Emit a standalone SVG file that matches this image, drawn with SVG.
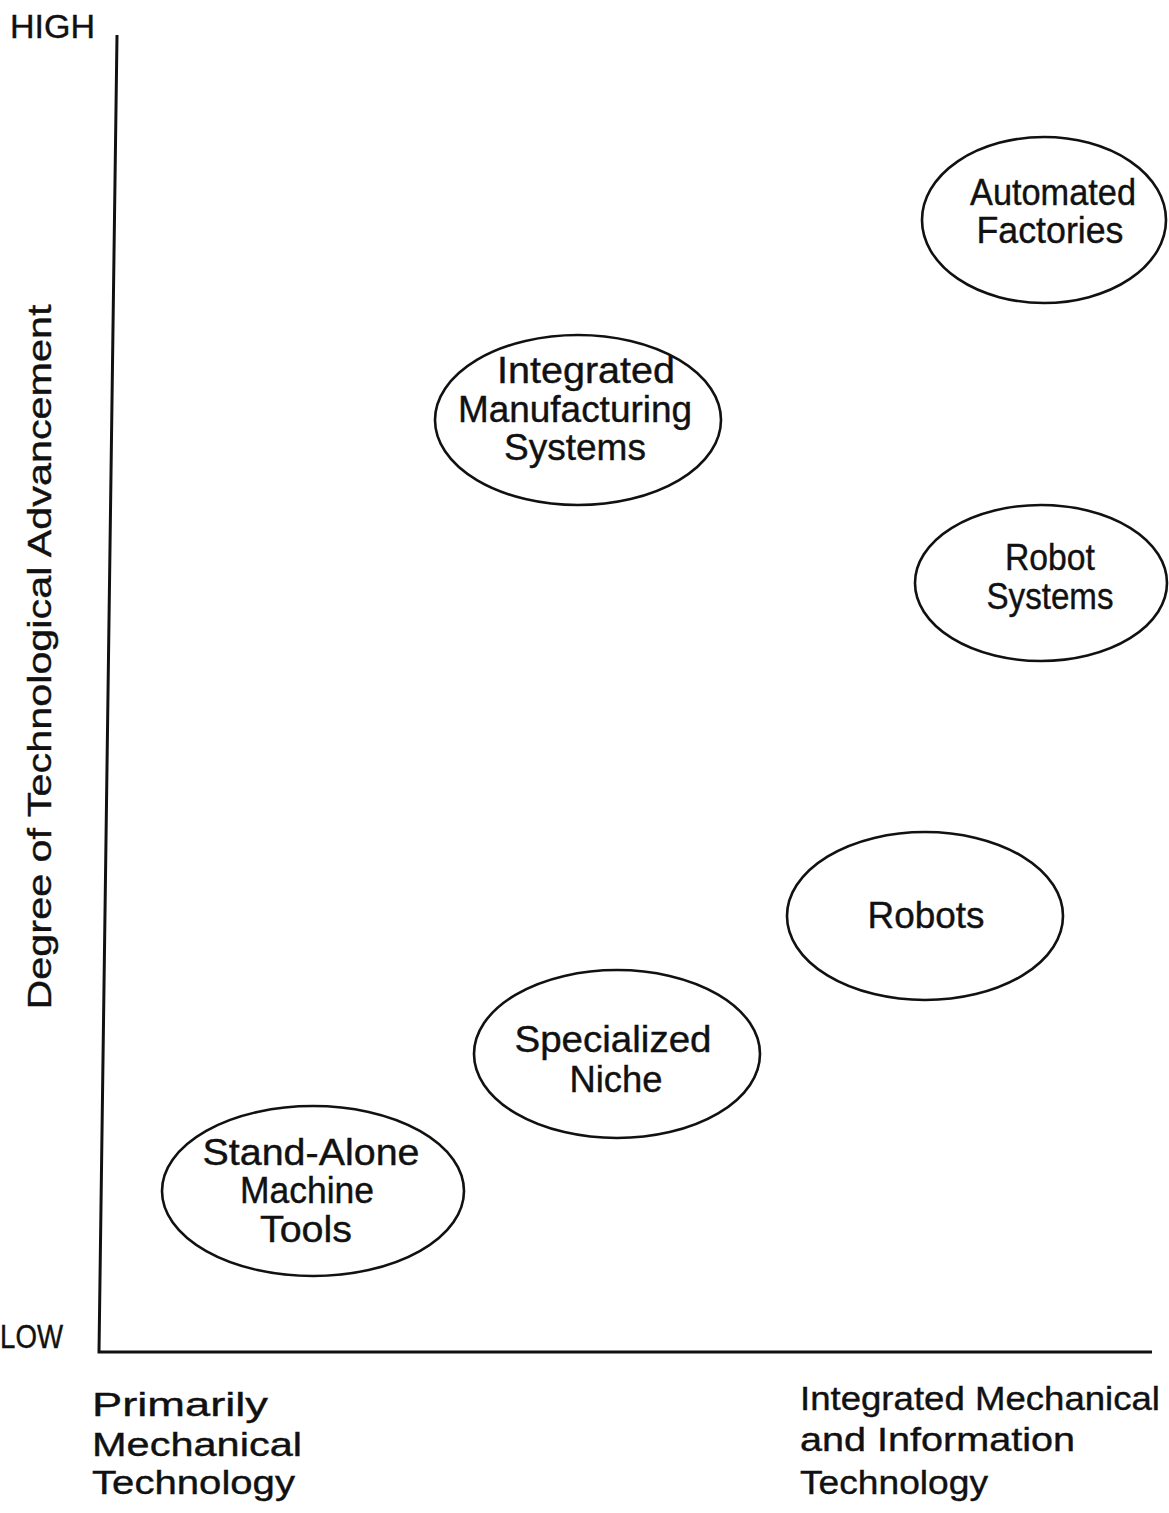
<svg xmlns="http://www.w3.org/2000/svg" width="1169" height="1513" viewBox="0 0 1169 1513">
<style>
text{font-family:"Liberation Sans","DejaVu Sans",sans-serif;fill:#111;stroke:#111;stroke-width:0.4;}
.n{font-size:36px;text-anchor:middle;}
.ax{font-size:34px;}
.lb{font-size:34px;}
.e{fill:none;stroke:#111;stroke-width:2.6;}
.axis{fill:none;stroke:#111;stroke-width:3;}
</style>
<rect width="1169" height="1513" fill="#fff"/>
<g id="axes">
<path class="axis" d="M117 35 L99 1352 L1152 1352"/>
<text class="ax" x="10" y="38" textLength="85" lengthAdjust="spacingAndGlyphs">HIGH</text>
<text class="ax" x="0" y="1348" font-size="37" textLength="63" lengthAdjust="spacingAndGlyphs">LOW</text>
<text class="lb" transform="translate(51,657) rotate(-90)" text-anchor="middle" font-size="31" textLength="705" lengthAdjust="spacingAndGlyphs">Degree of Technological Advancement</text>
<text class="lb" x="92" y="1416" textLength="176" lengthAdjust="spacingAndGlyphs">Primarily</text>
<text class="lb" x="92" y="1456" textLength="210" lengthAdjust="spacingAndGlyphs">Mechanical</text>
<text class="lb" x="92" y="1494" textLength="203" lengthAdjust="spacingAndGlyphs">Technology</text>
<text class="lb" x="800" y="1410" textLength="360" lengthAdjust="spacingAndGlyphs">Integrated Mechanical</text>
<text class="lb" x="800" y="1451" textLength="275" lengthAdjust="spacingAndGlyphs">and Information</text>
<text class="lb" x="800" y="1494" textLength="188" lengthAdjust="spacingAndGlyphs">Technology</text>
</g>
<g id="connectors"></g>
<g id="automated-factories">
<ellipse class="e" cx="1044" cy="220" rx="122" ry="83"/>
<text class="n" x="1053" y="205" textLength="166" lengthAdjust="spacingAndGlyphs">Automated</text>
<text class="n" x="1050" y="243" textLength="147" lengthAdjust="spacingAndGlyphs">Factories</text>
</g>
<g id="integrated-manufacturing-systems">
<ellipse class="e" cx="578" cy="420" rx="143" ry="85"/>
<text class="n" x="586" y="383" textLength="178" lengthAdjust="spacingAndGlyphs">Integrated</text>
<text class="n" x="575" y="422" textLength="234" lengthAdjust="spacingAndGlyphs">Manufacturing</text>
<text class="n" x="575" y="460" textLength="142" lengthAdjust="spacingAndGlyphs">Systems</text>
</g>
<g id="robot-systems">
<ellipse class="e" cx="1041" cy="583" rx="126" ry="78"/>
<text class="n" x="1050" y="570" textLength="90" lengthAdjust="spacingAndGlyphs">Robot</text>
<text class="n" x="1050" y="609" textLength="127" lengthAdjust="spacingAndGlyphs">Systems</text>
</g>
<g id="robots">
<ellipse class="e" cx="925" cy="916" rx="138" ry="84"/>
<text class="n" x="926" y="928" textLength="117" lengthAdjust="spacingAndGlyphs">Robots</text>
</g>
<g id="specialized-niche">
<ellipse class="e" cx="617" cy="1054" rx="143" ry="84"/>
<text class="n" x="613" y="1052" textLength="197" lengthAdjust="spacingAndGlyphs">Specialized</text>
<text class="n" x="616" y="1092" textLength="93" lengthAdjust="spacingAndGlyphs">Niche</text>
</g>
<g id="stand-alone-machine-tools">
<ellipse class="e" cx="313" cy="1191" rx="151" ry="85"/>
<text class="n" x="311" y="1165" textLength="217" lengthAdjust="spacingAndGlyphs">Stand-Alone</text>
<text class="n" x="307" y="1203" textLength="134" lengthAdjust="spacingAndGlyphs">Machine</text>
<text class="n" x="306" y="1242" textLength="92" lengthAdjust="spacingAndGlyphs">Tools</text>
</g>
</svg>
